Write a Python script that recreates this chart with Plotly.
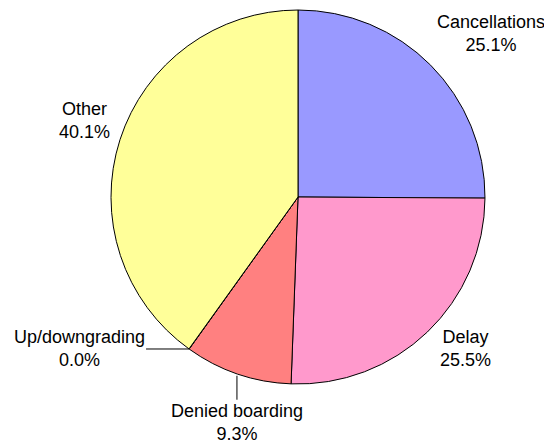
import math
import plotly.graph_objects as go

labels = ["Cancellations", "Delay", "Denied boarding", "Up/downgrading", "Other"]
values = [25.1, 25.5, 9.3, 0.02, 40.1]
colors = ["#9999FF", "#FF99CC", "#FF8080", "#80FFFF", "#FFFF99"]

# page body adds an 8px margin, so the figure is 8px smaller than the window
W, H = 544, 436
ML, MR, MT, MB = 103, 67, 2, 60
FONT = dict(family="Liberation Sans, Arial", size=18, color="black")

fig = go.Figure(go.Pie(
    labels=labels, values=values, sort=False, direction="clockwise", rotation=0,
    marker=dict(colors=colors, line=dict(color="black", width=1)),
    textinfo="none", showlegend=False, hoverinfo="label+percent",
))

total = sum(values)
cum = 0.0
# label placement per slice: (radius factor, xanchor, yanchor, leader dx, leader dy, xshift, yshift)
style = {
    "Cancellations": (1.06, "left", "bottom", None, None, -4, 0),
    "Delay": (1.08, "left", "middle", None, None, 0, -6),
    "Denied boarding": (1.01, None, None, 0, 47, 0, 0),
    "Up/downgrading": (1.0, None, None, -110, 0, 0, 0),
    "Other": (1.06, "right", "bottom", None, None, 3, -8),
}
for lab, v in zip(labels, values):
    mid = (cum + v / 2) / total * 2 * math.pi
    cum += v
    k, xa, ya, dx, dy, xs, ys = style[lab]
    x = 0.5 + 0.5 * k * math.sin(mid)
    y = 0.5 + 0.5 * k * math.cos(mid)
    txt = f"{lab}<br>{v / total * 100:.1f}%"
    if dx is None:
        fig.add_annotation(x=x, y=y, xref="paper", yref="paper", text=txt,
                           showarrow=False, xanchor=xa, yanchor=ya,
                           xshift=xs, yshift=ys, font=FONT)
    else:
        fig.add_annotation(x=x, y=y, xref="paper", yref="paper", text=txt,
                           showarrow=True, arrowhead=0, arrowwidth=1, arrowcolor="black",
                           ax=dx, ay=dy, font=FONT)

fig.update_layout(
    width=W, height=H, paper_bgcolor="white", plot_bgcolor="white",
    margin=dict(l=ML, r=MR, t=MT, b=MB),
)
fig.write_html("out.html")
